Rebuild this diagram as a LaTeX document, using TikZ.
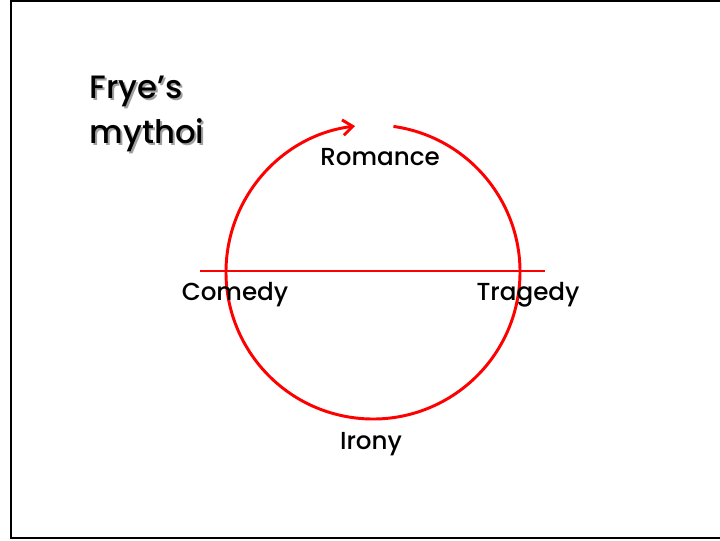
\documentclass[tikz,border=0pt]{standalone}
\usepackage{tikz}
\usepackage{xcolor}
\usepackage{fontspec}
\setmainfont{Poppins}[UprightFont=* Medium]
\usetikzlibrary{arrows.meta}
\definecolor{MythRed}{HTML}{FF0000}
\definecolor{MythShade}{HTML}{A0A0A0}

\begin{document}
\begin{tikzpicture}[
    x=0.025cm, y=0.025cm,
    mythos/.style={font=\fontsize{17.5}{20}\selectfont, text=black, inner sep=1pt},
    title/.style={font=\fontsize{23}{32}\selectfont, align=left, anchor=west, inner sep=0pt},
    cycle/.style={MythRed, line width=2.1pt},
    frame/.style={draw=black, line width=1.4pt}
  ]
    \useasboundingbox (0,0) rectangle (720,540);
    \draw[frame] (11,2) rectangle (724,539);

    \node[title, text=MythShade] (titleshade) at (91.5,424.5) {Frye's\\mythoi};
    \node[title] (title) at (89.5,426.5) {Frye's\\mythoi};

    \coordinate (hub) at (373,268);
    \coordinate (west) at (200,269);
    \coordinate (east) at (545,269);
    \draw[cycle, -{Straight Barb[length=7pt,width=11pt,line width=2.1pt]}] (hub) ++(82:147) arc[start angle=82, end angle=-263, radius=147];
    \draw[cycle] (west) -- (east);

    \node[mythos] (romance) at (380,383) {Romance};
    \node[mythos] (comedy) at (235,245) {Comedy};
    \node[mythos] (tragedy) at (528,245) {Tragedy};
    \node[mythos] (irony) at (371,96) {Irony};
  \end{tikzpicture}
\end{document}
